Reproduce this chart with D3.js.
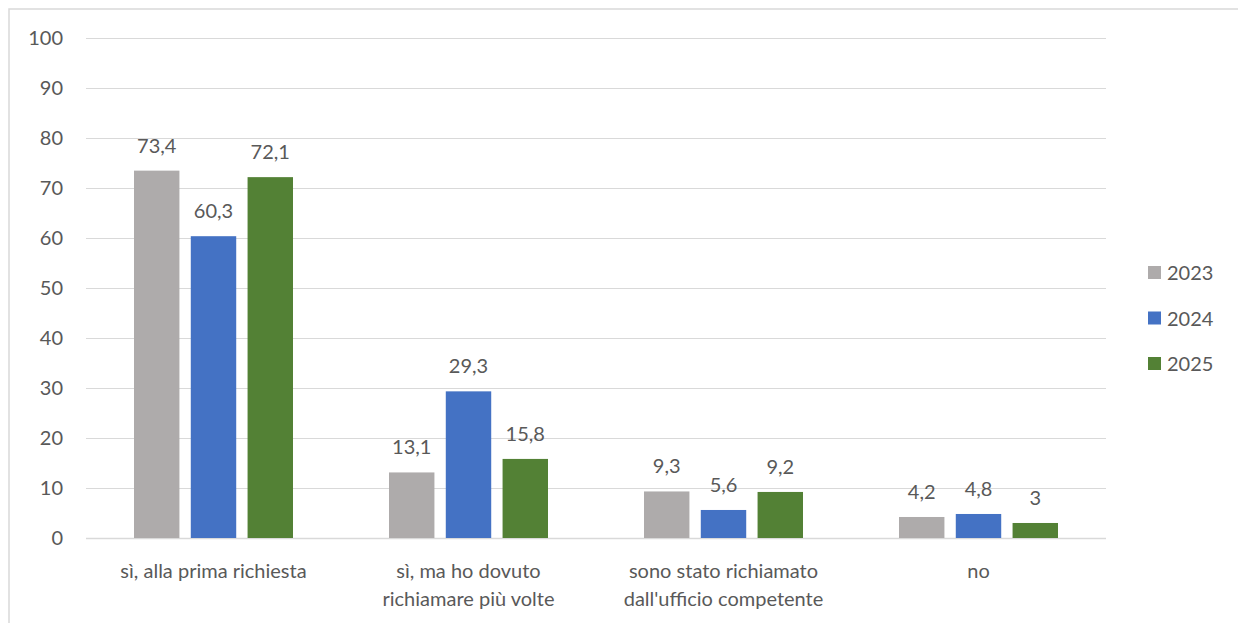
<!DOCTYPE html>
<html>
<head>
<meta charset="utf-8">
<script src="https://cdn.jsdelivr.net/npm/d3@7"></script>
<style>
  body { margin: 0; background: #fff; }
  text { font-family: Lato, "Open Sans", sans-serif; fill: #595959; font-size: 20px; }
</style>
</head>
<body>
<script>
var width  = 1238,
    height = 623;

var categories = [
  ['sì, alla prima richiesta'],
  ['sì, ma ho dovuto', 'richiamare più volte'],
  ['sono stato richiamato', "dall'ufficio competente"],
  ['no']
];
var years = ['2023', '2024', '2025'];
var colors = ['#AEABAB', '#4472C4', '#538135'];
var values2023 = [73.4, 13.1, 9.3, 4.2];
var values2024 = [60.3, 29.3, 5.6, 4.8];
var values2025 = [72.1, 15.8, 9.2, 3];
var yTicks = [0, 10, 20, 30, 40, 50, 60, 70, 80, 90, 100];

var series = [values2023, values2024, values2025];

var svg = d3.select('body').append('svg')
    .attr('width', width)
    .attr('height', height);

// chart frame
svg.append('rect')
    .attr('x', 9).attr('y', 9)
    .attr('width', width).attr('height', height)
    .attr('fill', 'none')
    .attr('stroke', '#d9d9d9')
    .attr('stroke-width', 1.5);

var plot = {left: 86, right: 1106, top: 37.5, bottom: 538};

var x0 = d3.scaleBand()
    .domain(d3.range(categories.length))
    .range([plot.left, plot.right]);

var x1 = d3.scaleBand()
    .domain(d3.range(years.length))
    .range([0, 159])
    .paddingInner(0.2);

var y = d3.scaleLinear()
    .domain([0, 100])
    .range([plot.bottom, plot.top]);

// gridlines
svg.append('g').selectAll('line')
  .data(yTicks)
  .enter().append('line')
    .attr('x1', plot.left)
    .attr('x2', plot.right)
    .attr('y1', function(d) {return Math.round(y(d)) + 0.5;})
    .attr('y2', function(d) {return Math.round(y(d)) + 0.5;})
    .attr('stroke', '#d9d9d9')
    .attr('stroke-width', function(d) {return d === 0 ? 1.5 : 1;});

// y tick labels
svg.append('g').selectAll('text')
  .data(yTicks)
  .enter().append('text')
    .attr('x', 63)
    .attr('y', function(d) {return y(d);})
    .attr('dy', '0.35em')
    .attr('text-anchor', 'end')
    .text(function(d) {return d;});

// bars
var groups = svg.append('g').selectAll('g')
  .data(categories)
  .enter().append('g')
    .attr('transform', function(d, i) {
      return 'translate(' + (x0(i) + (x0.bandwidth() - 159) / 2) + ',0)';
    });

groups.selectAll('rect')
  .data(function(d, i) {return series.map(function(s, j) {return {s: j, v: s[i]};});})
  .enter().append('rect')
    .attr('x', function(d) {return x1(d.s);})
    .attr('width', x1.bandwidth())
    .attr('y', function(d) {return y(d.v);})
    .attr('height', function(d) {return y(0) - y(d.v);})
    .attr('fill', function(d) {return colors[d.s];});

groups.selectAll('text.lbl')
  .data(function(d, i) {return series.map(function(s, j) {return {s: j, v: s[i]};});})
  .enter().append('text')
    .attr('class', 'lbl')
    .attr('x', function(d) {return x1(d.s) + x1.bandwidth() / 2;})
    .attr('y', function(d) {return y(d.v) - 18;})
    .attr('text-anchor', 'middle')
    .text(function(d) {return String(d.v).replace('.', ',');});

// category labels
var catLabels = svg.append('g').selectAll('text')
  .data(categories)
  .enter().append('text')
    .attr('x', function(d, i) {return x0(i) + x0.bandwidth() / 2;})
    .attr('y', 578)
    .attr('text-anchor', 'middle');

catLabels.selectAll('tspan')
  .data(function(d) {return d;})
  .enter().append('tspan')
    .attr('x', function() {return d3.select(this.parentNode).attr('x');})
    .attr('dy', function(d, i) {return i === 0 ? 0 : 28;})
    .text(function(d) {return d;});

// legend
var legend = svg.append('g').selectAll('g')
  .data(years)
  .enter().append('g')
    .attr('transform', function(d, i) {return 'translate(1148,' + (273 + i * 45.5) + ')';});

legend.append('rect')
    .attr('x', 0).attr('y', -7)
    .attr('width', 13).attr('height', 13)
    .attr('fill', function(d, i) {return colors[i];});

legend.append('text')
    .attr('x', 19)
    .attr('dy', '0.35em')
    .text(function(d) {return d;});
</script>
</body>
</html>
